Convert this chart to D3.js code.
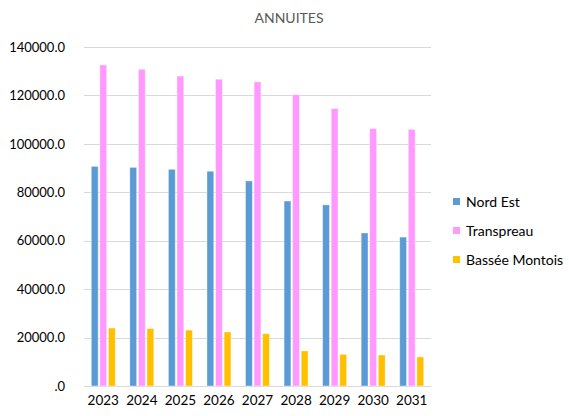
<!DOCTYPE html>
<html>
<head>
<meta charset="utf-8">
<script src="https://cdn.jsdelivr.net/npm/d3@7"></script>
<style>
  body { margin: 0; background: #fff; }
  text { font-family: Lato, "Open Sans", sans-serif; }
</style>
</head>
<body>
<svg id="chart" width="569" height="416"></svg>
<script>
let years = ["2023", "2024", "2025", "2026", "2027", "2028", "2029", "2030", "2031"];
let seriesNames = ["Nord Est", "Transpreau", "Bassée Montois"];
let nordEst = [90700, 90300, 89500, 88700, 84700, 76400, 74800, 63200, 61500];
let transpreau = [132600, 130800, 128000, 126700, 125600, 120300, 114600, 106300, 106000];
let basseeMontois = [23950, 23700, 23100, 22300, 21600, 14500, 13100, 12800, 12000];
let yTicks = [0, 20000, 40000, 60000, 80000, 100000, 120000, 140000];
let colors = ["#5B9BD5", "#FF99FF", "#FFC000"];

let series = [nordEst, transpreau, basseeMontois];

let svg = d3.select("#chart");
let margin = { left: 84, right: 138, top: 47, bottom: 30 };
let width = +svg.attr("width");
let height = +svg.attr("height");

let x = d3.scaleBand()
    .domain(years)
    .range([margin.left, width - margin.right]);

let xInner = d3.scaleBand()
    .domain(seriesNames)
    .range([-12, 12])
    .paddingInner(0.2);

let y = d3.scaleLinear()
    .domain([0, 140000])
    .range([height - margin.bottom, margin.top]);

svg.append("text")
    .attr("x", 289)
    .attr("y", 23)
    .attr("text-anchor", "middle")
    .attr("fill", "#595959")
    .attr("font-size", 14)
    .text("ANNUITES");

// gridlines
svg.append("g")
    .selectAll("line")
    .data(yTicks)
    .join("line")
    .attr("x1", margin.left)
    .attr("x2", width - margin.right)
    .attr("y1", d => Math.round(y(d)) + 0.5)
    .attr("y2", d => Math.round(y(d)) + 0.5)
    .attr("stroke", "#d9d9d9")
    .attr("stroke-width", 1);

// y axis labels
let yAxis = svg.append("g")
    .attr("transform", `translate(${margin.left - 16}, 0)`)
    .call(d3.axisLeft(y).tickValues(yTicks).tickSize(0)
        .tickFormat(d => d === 0 ? ".0" : d3.format(".1f")(d)));
yAxis.select(".domain").remove();
yAxis.selectAll("text")
    .attr("fill", "#000")
    .attr("font-size", 13)
    .attr("font-family", "Lato, 'Open Sans', sans-serif");

// x axis labels
let xAxis = svg.append("g")
    .attr("transform", `translate(0, ${height - margin.bottom + 6})`)
    .call(d3.axisBottom(x).tickSize(0));
xAxis.select(".domain").remove();
xAxis.selectAll("text")
    .attr("fill", "#000")
    .attr("font-size", 13.5)
    .attr("font-family", "Lato, 'Open Sans', sans-serif");

// bars
let groups = svg.append("g")
    .selectAll("g")
    .data(years)
    .join("g")
    .attr("transform", d => `translate(${x(d) + x.bandwidth() / 2}, 0)`);

groups.selectAll("rect")
    .data((d, i) => series.map((s, j) => ({ name: seriesNames[j], value: s[i], color: colors[j] })))
    .join("rect")
    .attr("x", d => xInner(d.name))
    .attr("width", xInner.bandwidth())
    .attr("y", d => y(d.value))
    .attr("height", d => y(0) - y(d.value))
    .attr("fill", d => d.color)
    .attr("stroke", "#fff")
    .attr("stroke-opacity", 0.5)
    .attr("stroke-width", 0.8);

// legend
let legend = svg.append("g")
    .selectAll("g")
    .data(seriesNames)
    .join("g")
    .attr("transform", (d, i) => `translate(453, ${198 + i * 29})`);

legend.append("rect")
    .attr("width", 7)
    .attr("height", 7)
    .attr("fill", (d, i) => colors[i]);

legend.append("text")
    .attr("x", 13)
    .attr("y", 4)
    .attr("dy", "0.35em")
    .attr("font-size", 14)
    .attr("fill", "#000")
    .text(d => d);
</script>
</body>
</html>
